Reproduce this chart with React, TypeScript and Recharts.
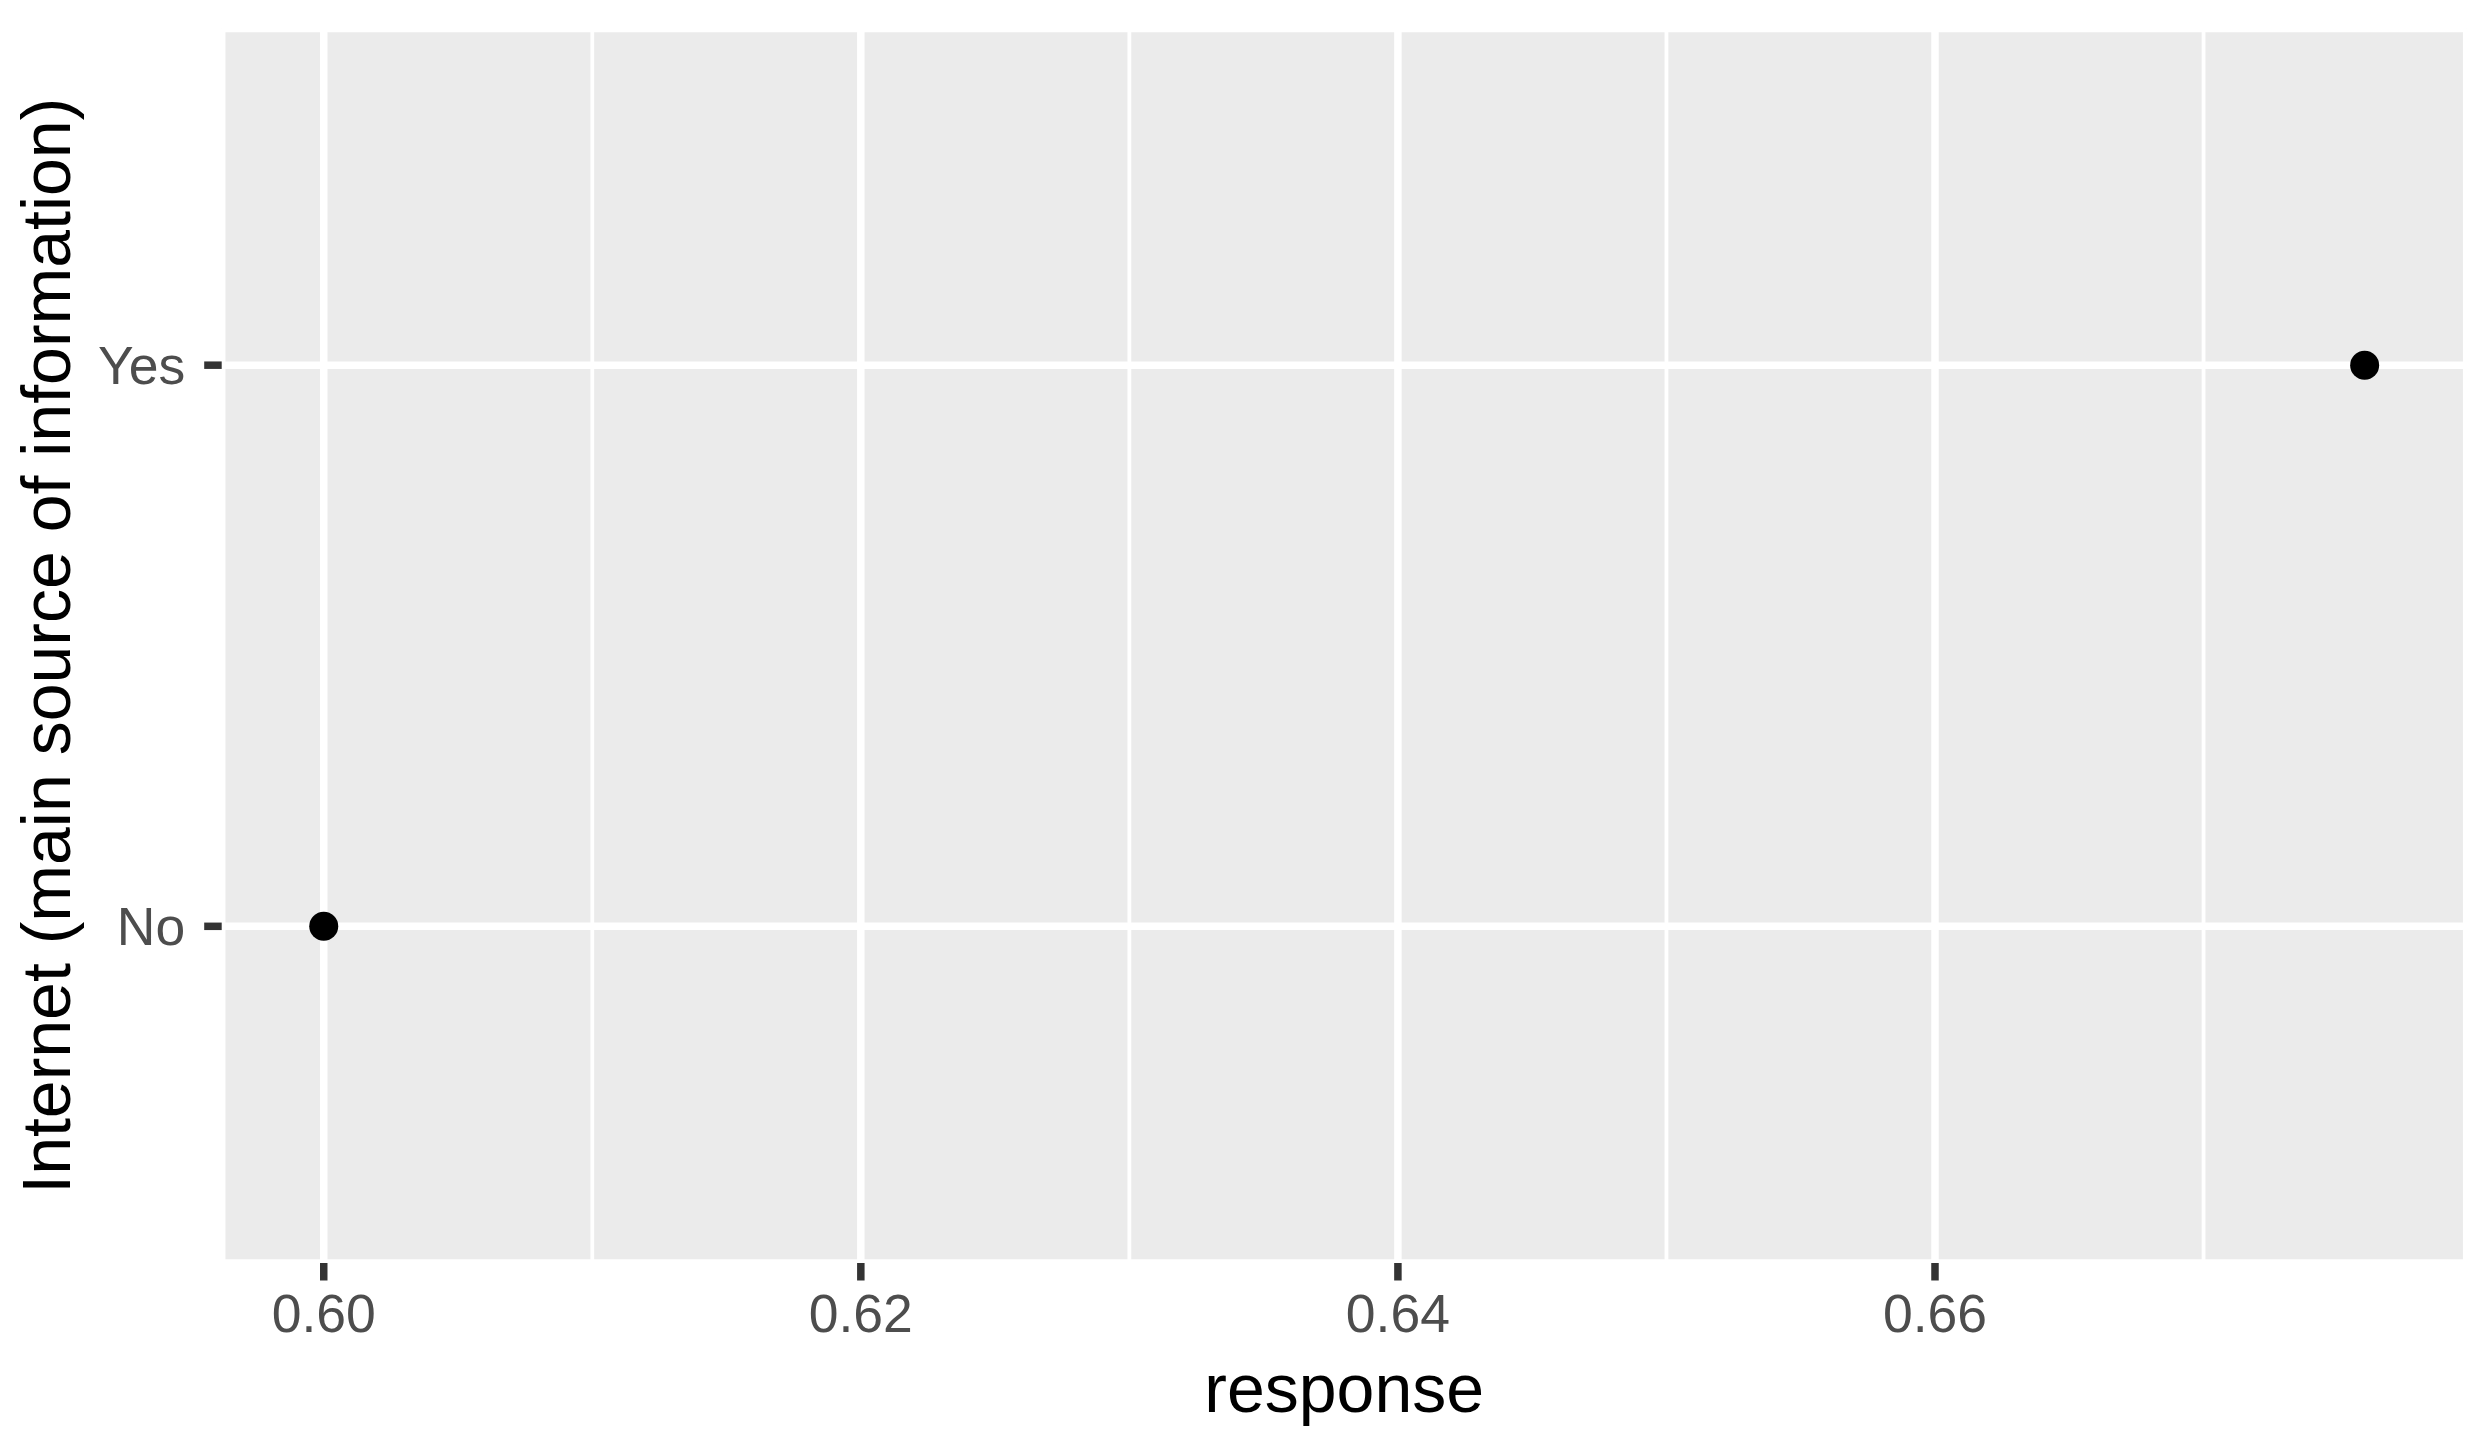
import React from 'react';
import {
  ScatterChart,
  Scatter,
  XAxis,
  YAxis,
  CartesianGrid,
  ReferenceLine,
  Label,
} from 'recharts';

const categories = ['No', 'Yes'];
const responses = [0.6, 0.676];
const xMajorTicks = [0.6, 0.62, 0.64, 0.66];
const xMinorTicks = [0.61, 0.63, 0.65, 0.67];
const xTitle = 'response';
const yTitle = 'Internet (main source of information)';

const data = categories.map((c, i) => ({ cat: c, y: i + 1, response: responses[i] }));

const span = Math.max(...responses) - Math.min(...responses);
const xDomain = [Math.min(...responses) - 0.05 * span, Math.max(...responses) + 0.05 * span];
const yDomain = [1 - 0.6, categories.length + 0.6];

const FONT = '"Liberation Sans", Arial, Helvetica, sans-serif';
const TICK_FONT = 53.5;
const TITLE_FONT = 68;

const XTitle = (props: any) => {
  const vb = props.viewBox || {};
  return (
    <text
      x={vb.x + vb.width / 2}
      y={vb.y + 149}
      textAnchor="middle"
      fontFamily={FONT}
      fontSize={TITLE_FONT}
      fill="#000000"
    >
      {xTitle}
    </text>
  );
};

const YTitle = (props: any) => {
  const vb = props.viewBox || {};
  const cx = 70;
  const cy = vb.y + vb.height / 2;
  return (
    <text
      x={cx}
      y={cy}
      transform={`rotate(-90, ${cx}, ${cy})`}
      textAnchor="middle"
      fontFamily={FONT}
      fontSize={TITLE_FONT}
      fill="#000000"
    >
      {yTitle}
    </text>
  );
};

const Dot = (props: any) => <circle cx={props.cx} cy={props.cy} r={14.5} fill="#000000" />;

export default function App() {
  return (
    <div style={{ position: 'absolute', left: 0, top: 0, background: '#ffffff' }}>
      <ScatterChart
        width={2488}
        height={1448}
        margin={{ top: 28.5, right: 21.3, bottom: 0, left: 0 }}
      >
        <CartesianGrid fill="#EBEBEB" stroke="#FFFFFF" strokeWidth={7.5} />
        {xMinorTicks.map((v) => (
          <ReferenceLine key={v} x={v} stroke="#FFFFFF" strokeWidth={3.8} ifOverflow="hidden" />
        ))}
        <XAxis
          type="number"
          dataKey="response"
          domain={xDomain}
          ticks={xMajorTicks}
          allowDataOverflow
          tickFormatter={(v: number) => v.toFixed(2)}
          axisLine={false}
          tickSize={17.5}
          tickMargin={14}
          tickLine={{ stroke: '#333333', strokeWidth: 7.5 }}
          tick={{ fill: '#4D4D4D', fontSize: TICK_FONT, fontFamily: FONT }}
          height={185}
        >
          <Label content={<XTitle />} />
        </XAxis>
        <YAxis
          type="number"
          dataKey="y"
          domain={yDomain}
          ticks={categories.map((_, i) => i + 1)}
          allowDataOverflow
          tickFormatter={(v: number) => categories[v - 1]}
          axisLine={false}
          tickSize={17.5}
          tickMargin={19}
          tickLine={{ stroke: '#333333', strokeWidth: 7.5 }}
          tick={{ fill: '#4D4D4D', fontSize: TICK_FONT, fontFamily: FONT }}
          width={221.7}
        >
          <Label content={<YTitle />} />
        </YAxis>
        <Scatter data={data} shape={<Dot />} isAnimationActive={false} />
      </ScatterChart>
    </div>
  );
}
